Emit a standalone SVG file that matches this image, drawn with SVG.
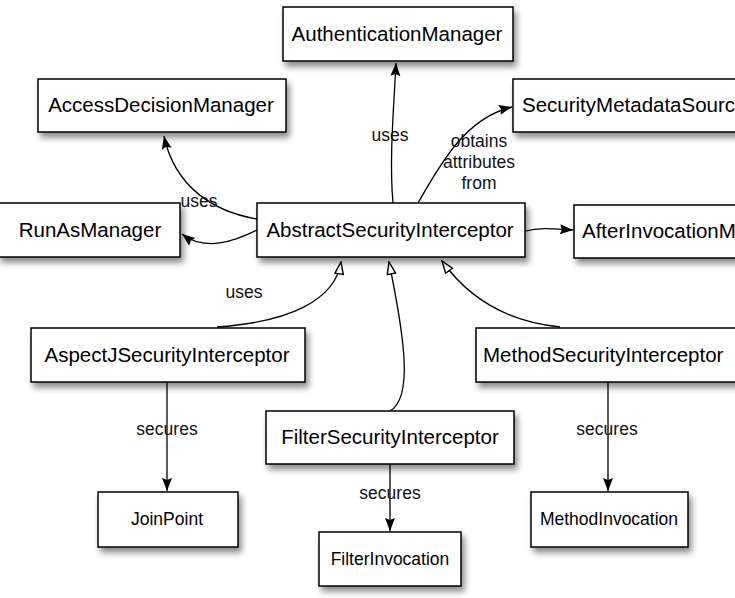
<svg xmlns="http://www.w3.org/2000/svg" width="735" height="598" viewBox="0 0 735 598">
  <style>
    .box { fill: #ffffff; stroke: #000000; stroke-width: 1.5; filter: url(#shadow); }
    .lbl { font-family: "Liberation Sans", Arial, Helvetica, sans-serif; font-size: 20.5px; fill: #000000; text-anchor: middle; }
    .lbl.s { font-size: 17.5px; }
    .lbl.st { text-anchor: start; }
    .edge { fill: none; stroke: #000000; stroke-width: 1.3; }
    .filled { marker-end: url(#arrow); }
    .hollow { marker-end: url(#tri); }
    .elbl { font-family: "Liberation Sans", Arial, Helvetica, sans-serif; font-size: 17.5px; fill: #111111; text-anchor: middle; }
  </style>
  <defs>
    <filter id="shadow" x="-10%" y="-20%" width="130%" height="160%">
      <feDropShadow dx="3" dy="5" stdDeviation="3" flood-color="#000000" flood-opacity="0.45"/>
    </filter>
    <marker id="arrow" markerUnits="userSpaceOnUse" markerWidth="14" markerHeight="12" refX="13" refY="5" orient="auto">
      <path d="M0,0 L13,5 L0,10 L2,5 z" fill="#000000"/>
    </marker>
    <marker id="tri" markerUnits="userSpaceOnUse" markerWidth="14" markerHeight="12" refX="13" refY="5" orient="auto">
      <path d="M1,0.8 L13,5 L1,9.2 z" fill="#ffffff" stroke="#000000" stroke-width="1.4"/>
    </marker>
  </defs>
  <rect x="0" y="0" width="735" height="598" fill="#ffffff"/>

  <g id="connectors">
    <path class="edge filled" d="M393 203 C389 160, 394 105, 396 63"/>
    <path class="edge filled" d="M257 219 C215 212, 175 188, 164 136"/>
    <path class="edge filled" d="M257 230 C235 241, 205 252, 182 234"/>
    <path class="edge filled" d="M418 203 C440 165, 465 118, 512 107"/>
    <path class="edge filled" d="M526 231 C540 227, 555 229, 573 230"/>
    <path class="edge hollow" d="M217 327 C290 322, 335 300, 341 262"/>
    <path class="edge hollow" d="M390 411 C413 398, 405 340, 389 262"/>
    <path class="edge hollow" d="M560 327 C510 322, 470 300, 442 261"/>
    <path class="edge filled" d="M167 382 L167 491"/>
    <path class="edge filled" d="M390 464 L390 531"/>
    <path class="edge filled" d="M608 382 L608 491"/>
    <text class="elbl" x="390" y="141">uses</text>
    <text class="elbl" x="479" y="147">obtains</text>
    <text class="elbl" x="479" y="168">attributes</text>
    <text class="elbl" x="479" y="189">from</text>
    <text class="elbl" x="199" y="207">uses</text>
    <text class="elbl" x="244" y="298">uses</text>
    <text class="elbl" x="167" y="435">secures</text>
    <text class="elbl" x="390" y="499">secures</text>
    <text class="elbl" x="607" y="435">secures</text>
  </g>

  <g id="AuthenticationManager">
    <rect class="box" x="283" y="7" width="230" height="54"/>
    <text class="lbl" x="397" y="41">AuthenticationManager</text>
  </g>
  <g id="AccessDecisionManager">
    <rect class="box" x="38" y="79" width="248" height="53"/>
    <text class="lbl" x="161" y="112">AccessDecisionManager</text>
  </g>
  <g id="SecurityMetadataSource">
    <rect class="box" x="513" y="79" width="240" height="53"/>
    <text class="lbl st" x="522" y="112">SecurityMetadataSource</text>
  </g>
  <g id="RunAsManager">
    <rect class="box" x="-2" y="203" width="182" height="54"/>
    <text class="lbl" x="90" y="237">RunAsManager</text>
  </g>
  <g id="AbstractSecurityInterceptor">
    <rect class="box" x="257" y="203" width="268" height="54"/>
    <text class="lbl" x="390" y="237">AbstractSecurityInterceptor</text>
  </g>
  <g id="AfterInvocationManager">
    <rect class="box" x="574" y="205" width="200" height="53"/>
    <text class="lbl st" x="582" y="238">AfterInvocationManager</text>
  </g>
  <g id="AspectJSecurityInterceptor">
    <rect class="box" x="31" y="328" width="274" height="54"/>
    <text class="lbl" x="167" y="362">AspectJSecurityInterceptor</text>
  </g>
  <g id="MethodSecurityInterceptor">
    <rect class="box" x="476" y="328" width="270" height="54"/>
    <text class="lbl st" x="483" y="362">MethodSecurityInterceptor</text>
  </g>
  <g id="FilterSecurityInterceptor">
    <rect class="box" x="266" y="411" width="248" height="53"/>
    <text class="lbl" x="390" y="444">FilterSecurityInterceptor</text>
  </g>
  <g id="JoinPoint">
    <rect class="box" x="98" y="492" width="140" height="55"/>
    <text class="lbl s" x="167" y="525">JoinPoint</text>
  </g>
  <g id="FilterInvocation">
    <rect class="box" x="319" y="532" width="142" height="54"/>
    <text class="lbl s" x="390" y="565">FilterInvocation</text>
  </g>
  <g id="MethodInvocation">
    <rect class="box" x="531" y="492" width="157" height="55"/>
    <text class="lbl s" x="609" y="525">MethodInvocation</text>
  </g>
</svg>
